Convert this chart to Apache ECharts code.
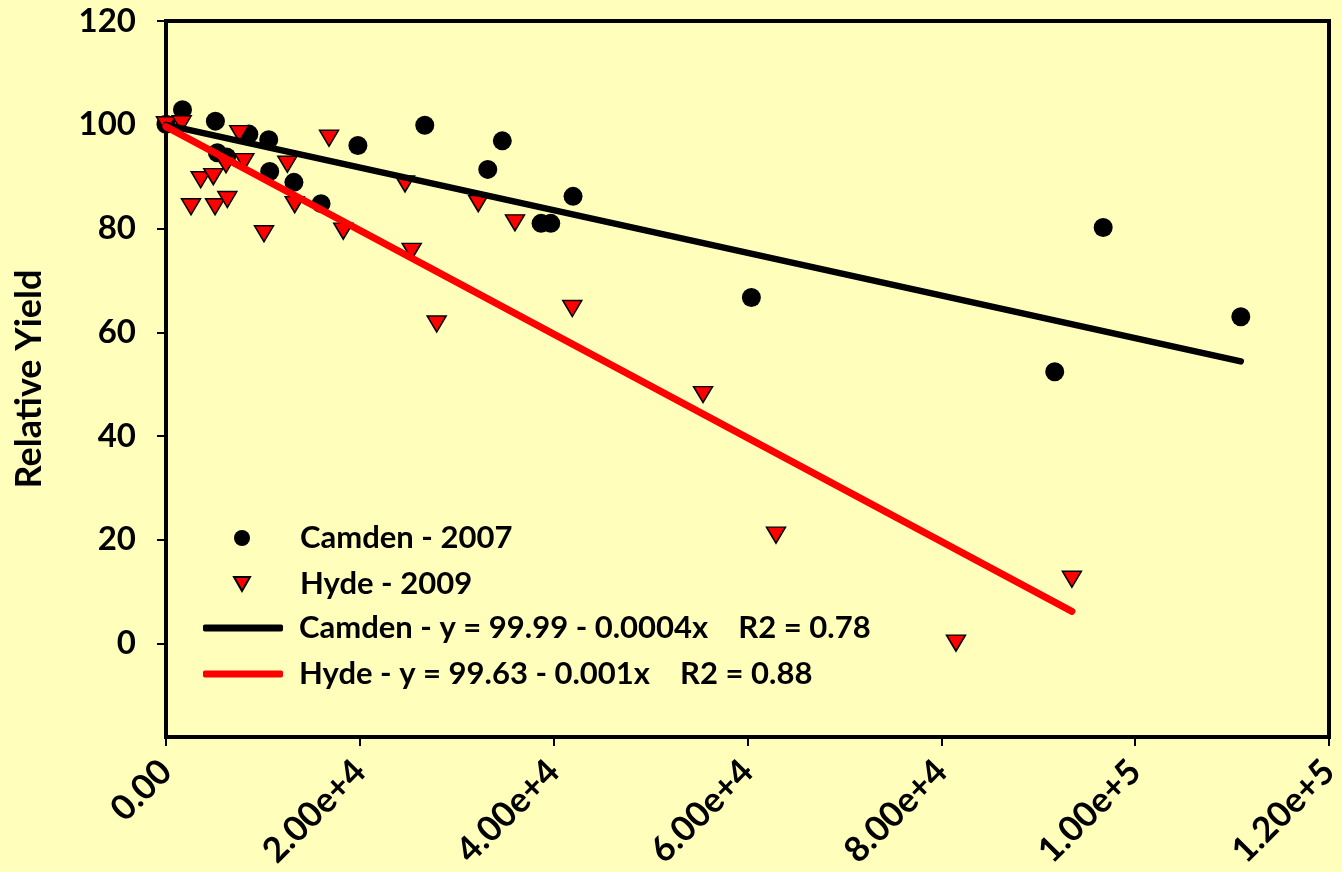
<!DOCTYPE html>
<html>
<head>
<meta charset="utf-8">
<script src="https://cdn.jsdelivr.net/npm/echarts@6/dist/echarts.min.js"></script>
<style>
html,body{margin:0;padding:0;background:#FFFFBB;}
#c{width:1342px;height:872px;}
</style>
</head>
<body>
<div id="c"></div>
<script>
// Camden - 2007 observations
const camdenX = [0, 1700, 5100, 5300, 6250, 8550, 10600, 10700, 13200, 16000, 19800, 26700, 33200, 34700, 38700, 39700, 42000, 60400, 91700, 96700, 110900];
const camdenY = [100.1, 102.9, 100.7, 94.6, 93.8, 98.2, 97.1, 91.0, 88.9, 84.8, 96.0, 99.9, 91.4, 96.9, 81.0, 81.0, 86.2, 66.7, 52.4, 80.2, 63.0];
// Hyde - 2009 observations
const hydeX = [0, 1620, 3580, 4880, 2580, 5060, 6330, 7560, 8080, 6190, 12520, 10110, 13280, 16820, 18290, 24660, 25350, 32220, 36010, 27930, 41920, 55410, 62940, 81510, 93470];
const hydeY = [100.0, 100.2, 89.4, 90.0, 84.2, 84.2, 85.6, 98.3, 92.9, 92.3, 92.4, 79.0, 84.6, 97.4, 79.5, 88.6, 75.6, 84.8, 81.1, 61.6, 64.6, 48.0, 20.9, 0.1, 12.4];
// Regression lines (end points)
const camdenFitX = [0, 110900];
const camdenFitY = [99.99, 54.4];
const hydeFitX = [0, 93470];
const hydeFitY = [99.63, 6.2];
// Axis ticks
const yTicks = [0, 20, 40, 60, 80, 100, 120];
const seriesNames = ['Camden - 2007', 'Hyde - 2009', 'Camden - y = 99.99 - 0.0004x    R2 = 0.78', 'Hyde - y = 99.63 - 0.001x    R2 = 0.88'];

const zip = (a, b) => a.map((v, i) => [v, b[i]]);
const FONT = 'Lato';

function xFmt(v) {
  if (v === 0) return '0.00';
  const e = Math.floor(Math.log10(Math.abs(v)) + 1e-9);
  return (v / Math.pow(10, e)).toFixed(2) + 'e+' + e;
}

const legendText = {color: '#000', fontFamily: FONT, fontWeight: 'bold', fontSize: 31, lineHeight: 34};

const chart = echarts.init(document.getElementById('c'), null, {renderer: 'canvas'});
chart.setOption({
  backgroundColor: '#FFFFBB',
  animation: false,
  grid: {left: 166, right: 13, top: 21, bottom: 135, show: true, borderColor: '#000', borderWidth: 4, backgroundColor: 'transparent', containLabel: false, outerBoundsMode: 'none'},
  xAxis: {
    type: 'value', min: 0, max: 120000, interval: 20000,
    splitLine: {show: false},
    axisLine: {show: true, onZero: false, lineStyle: {color: '#000', width: 4}},
    axisTick: {show: true, inside: false, length: 9, lineStyle: {color: '#000', width: 2}},
    axisLabel: {formatter: xFmt, rotate: 45, margin: 29, color: '#000', fontFamily: FONT, fontWeight: 'bold', fontSize: 35, showMinLabel: true, showMaxLabel: true}
  },
  yAxis: {
    type: 'value', min: -18, max: 120,
    name: 'Relative Yield', nameLocation: 'middle', nameGap: 119, nameRotate: 90,
    nameTextStyle: {color: '#000', fontFamily: FONT, fontWeight: 'bold', fontSize: 36},
    splitLine: {show: false},
    axisLine: {show: true, onZero: false, lineStyle: {color: '#000', width: 4}},
    axisTick: {show: true, inside: false, length: 9, customValues: yTicks, lineStyle: {color: '#000', width: 2}},
    axisLabel: {customValues: yTicks, margin: 30, color: '#000', fontFamily: FONT, fontWeight: 'bold', fontSize: 33}
  },
  legend: [
    {
      data: [{name: seriesNames[0], icon: 'circle'}, {name: seriesNames[1], icon: 'path://M0,0 L2,0 L1,1.75 Z'}],
      orient: 'vertical', left: 233, top: 521, padding: 0, itemGap: 12,
      itemWidth: 16, itemHeight: 16, selectedMode: false,
      textStyle: Object.assign({padding: [0, 0, 0, 45]}, legendText)
    },
    {
      data: [{name: seriesNames[2], icon: 'roundRect'}, {name: seriesNames[3], icon: 'roundRect'}],
      orient: 'vertical', left: 203, top: 611, padding: 0, itemGap: 12,
      itemWidth: 80, itemHeight: 7, selectedMode: false,
      textStyle: Object.assign({padding: [0, 0, 0, 11]}, legendText)
    }
  ],
  series: [
    {
      name: seriesNames[0], type: 'scatter', data: zip(camdenX, camdenY),
      symbol: 'circle', symbolSize: 19,
      itemStyle: {color: '#000', borderWidth: 0, opacity: 1}
    },
    {
      name: seriesNames[1], type: 'scatter', data: zip(hydeX, hydeY),
      symbol: 'triangle', symbolRotate: 180, symbolSize: [19, 16],
      itemStyle: {color: '#FF0000', borderColor: '#000', borderWidth: 1.5, opacity: 1}
    },
    {
      name: seriesNames[2], type: 'line', data: zip(camdenFitX, camdenFitY),
      showSymbol: false, symbol: 'none', color: '#000',
      itemStyle: {color: '#000'},
      lineStyle: {color: '#000', width: 6.5, cap: 'round'}
    },
    {
      name: seriesNames[3], type: 'line', data: zip(hydeFitX, hydeFitY),
      showSymbol: false, symbol: 'none', color: '#FF0000',
      itemStyle: {color: '#FF0000'},
      lineStyle: {color: '#FF0000', width: 7, cap: 'round'}
    }
  ]
});
</script>
</body>
</html>
